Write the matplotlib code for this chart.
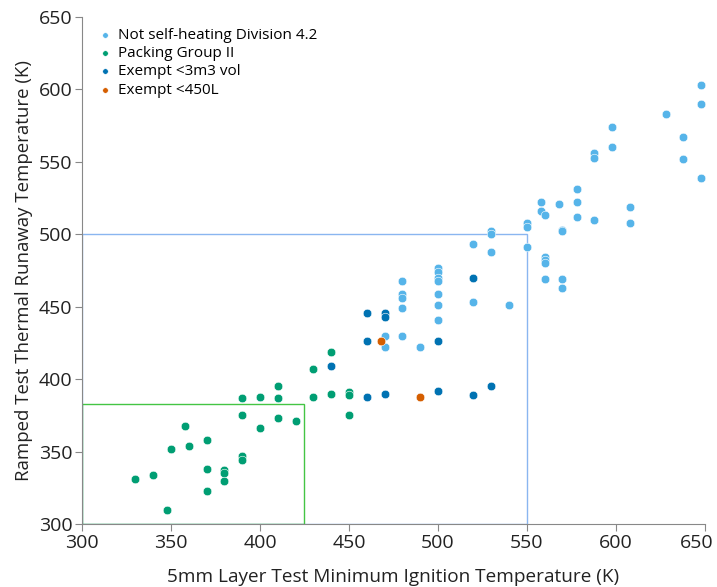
import matplotlib
matplotlib.use("Agg")
import matplotlib.pyplot as plt
from matplotlib.patches import Rectangle
from matplotlib.transforms import ScaledTranslation

plt.rcParams['font.family'] = ['Open Sans', 'DejaVu Sans']

# Not self-heating Division 4.2
nsh_x = [470, 470, 480, 480, 480, 480, 480, 490, 500, 500, 500, 500, 500, 500, 500,
         520, 520, 530, 530, 530, 540, 550, 550, 550, 558, 558, 560, 560, 560, 560, 560,
         568, 570, 570, 570, 570, 578, 578, 578, 588, 588, 588, 598, 598, 608, 608,
         628, 638, 638, 648, 648, 648]
nsh_y = [430, 422, 468, 459, 456, 449, 430, 422, 477, 474, 470, 468, 459, 451, 441,
         493, 453, 502, 500, 488, 451, 508, 505, 491, 522, 516, 513, 484, 482, 480, 469,
         521, 503, 502, 469, 463, 531, 522, 512, 556, 553, 510, 574, 560, 519, 508,
         583, 567, 552, 603, 590, 539]

# Packing Group II
pg_x = [330, 340, 348, 350, 358, 360, 370, 370, 370, 380, 380, 380, 390, 390, 390, 390,
        400, 400, 410, 410, 410, 420, 430, 430, 440, 440, 450, 450, 450]
pg_y = [331, 334, 310, 352, 368, 354, 358, 338, 323, 337, 335, 330, 387, 375, 347, 344,
        388, 366, 395, 387, 373, 371, 407, 388, 419, 390, 391, 389, 375]

# Exempt <3m3 vol
ex3_x = [440, 460, 470, 470, 460, 500, 460, 470, 500, 520, 520, 530]
ex3_y = [409, 446, 446, 443, 426, 426, 388, 390, 392, 470, 389, 395]

# Exempt <450L
ex450_x = [468, 490]
ex450_y = [426, 388]

labels = ["Not self-heating Division 4.2", "Packing Group II", "Exempt <3m3 vol", "Exempt <450L"]
colors = ["#56b4e9", "#009e73", "#0072b2", "#d55e00"]

fig = plt.figure(figsize=(7.17, 5.87), dpi=100)
ax = fig.add_axes([0.1144, 0.1073, 0.8686, 0.8637])

series = [(nsh_x, nsh_y), (pg_x, pg_y), (ex3_x, ex3_y), (ex450_x, ex450_y)]
for (sx, sy), lab, c in zip(series, labels, colors):
    ax.scatter(sx, sy, s=38, color=c, edgecolors='white', linewidths=0.4, label=lab, zorder=3)

# threshold boxes
ax.add_patch(Rectangle((300, 300), 250, 200, fill=False, edgecolor='#8ab6f0', lw=1.0, zorder=2))
ax.add_patch(Rectangle((300, 300), 125, 83, fill=False, edgecolor='#44c544', lw=1.0, zorder=2))

ax.set_xlim(300, 650)
ax.set_ylim(300, 650)
ax.set_xticks(range(300, 651, 50))
ax.set_yticks(range(300, 651, 50))
for s in ['top', 'right']:
    ax.spines[s].set_visible(False)
for s in ['left', 'bottom']:
    ax.spines[s].set_color('#888888')
ax.tick_params(colors='#888888', labelcolor='#222222', labelsize=14, length=5, pad=2)

# keep the last x tick label inside the figure
last = ax.get_xticklabels()[-1]
last.set_transform(last.get_transform() + ScaledTranslation(-6 / 72, 0, fig.dpi_scale_trans))

ax.set_xlabel("5mm Layer Test Minimum Ignition Temperature (K)", fontsize=13.7, color='#222222', labelpad=12)
ax.set_ylabel("Ramped Test Thermal Runaway Temperature (K)", fontsize=13.4, color='#222222', labelpad=4)

leg = ax.legend(loc='upper left', bbox_to_anchor=(0.0, 1.0), frameon=False, fontsize=11,
                handletextpad=0.05, handlelength=1.6, labelspacing=0.22, borderaxespad=0.3,
                markerscale=0.65)

fig.savefig("out.png", dpi=100)
